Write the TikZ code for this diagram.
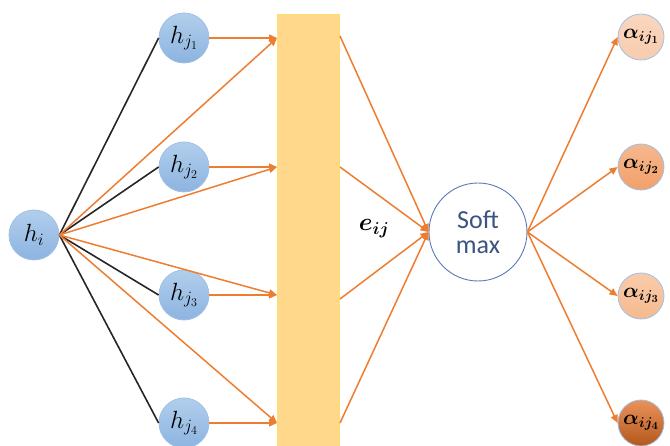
\documentclass[tikz,border=0pt]{standalone}
\usepackage{amsmath,bm}
\usepackage{fontspec}
\newfontfamily\smfont{Carlito}
\usetikzlibrary{arrows.meta}
\definecolor{hblueT}{RGB}{178,206,236}
\definecolor{hblueB}{RGB}{140,180,224}
\definecolor{hborder}{RGB}{160,192,230}
\definecolor{orangeline}{RGB}{237,125,49}
\definecolor{rectfill}{RGB}{255,216,140}
\definecolor{rectborder}{RGB}{255,222,110}
\definecolor{smborder}{RGB}{90,120,185}
\definecolor{smtext}{RGB}{60,84,130}
\definecolor{aOne}{RGB}{248,204,174}
\definecolor{aTwo}{RGB}{242,160,105}
\definecolor{aThree}{RGB}{246,186,142}
\definecolor{aFour}{RGB}{225,110,35}
\begin{document}
\begin{tikzpicture}[x=1pt,y=-1pt,
  hnode/.style={circle,minimum size=50pt,inner sep=0pt,draw=hborder,line width=0.8pt,
    top color=hblueT,bottom color=hblueB,font=\fontsize{25}{28}\selectfont},
  anode/.style={circle,minimum size=46pt,inner sep=0pt,draw=hborder,line width=0.8pt,
    font=\fontsize{21}{24}\selectfont},
  rectbox/.style={draw=rectborder,line width=1pt,fill=rectfill,inner sep=0pt},
  smnode/.style={circle,minimum size=98pt,inner sep=0pt,draw=smborder,line width=0.9pt,fill=white,
    font=\smfont\fontsize{26}{29}\selectfont,text=smtext,align=center},
  blk/.style={draw=black!85,line width=1.6pt},
  org/.style={draw=orangeline,line width=1.5pt,-{Triangle[length=8pt,width=7pt]}},
  elabel/.style={font=\fontsize{24}{28}\selectfont}
]
\useasboundingbox (0,0) rectangle (670,446);

\node[rectbox,minimum width=62pt,minimum height=434pt,anchor=north west] (att) at (277,14) {};

\node[hnode] (hi) at (34,235) {$h_i$};
\node[hnode] (hj1) at (184,38) {$h_{j_1}$};
\node[hnode] (hj2) at (184,167) {$h_{j_2}$};
\node[hnode] (hj3) at (184,295) {$h_{j_3}$};
\node[hnode] (hj4) at (184,423) {$h_{j_4}$};

\node[smnode] (sm) at (478,232) {Soft\\[-4pt]max};

\node[anode,top color=aOne!80!white,bottom color=aOne] (a1) at (641,37) {$\bm{\alpha}_{\bm{i}\bm{j_1}}$};
\node[anode,top color=aTwo!75!white,bottom color=aTwo] (a2) at (641,167) {$\bm{\alpha}_{\bm{i}\bm{j_2}}$};
\node[anode,top color=aThree!75!white,bottom color=aThree] (a3) at (641,296) {$\bm{\alpha}_{\bm{i}\bm{j_3}}$};
\node[anode,top color=aFour!75!white,bottom color=aFour!80!black] (a4) at (641,423) {$\bm{\alpha}_{\bm{i}\bm{j_4}}$};

\node[elabel] (eij) at (374,229) {$\bm{e_{ij}}$};

% coordinates on the attention bar
\coordinate (L1) at (att.west |- hj1);
\coordinate (L2) at (att.west |- hj2);
\coordinate (L3) at (att.west |- hj3);
\coordinate (L4) at (att.west |- hj4);
\coordinate (R1) at ([yshift=2pt]att.east |- hj1);
\coordinate (R2) at (att.east |- hj2);
\coordinate (R3) at ([yshift=-4pt]att.east |- hj3);
\coordinate (R4) at (att.east |- hj4);

% black links
\foreach \k in {1,2,3,4} \draw[blk] (hi.east) -- (hj\k.west);
% orange from h_i
\foreach \k in {1,2,3,4} \draw[org] (hi.east) -- (L\k);
% orange from h_j
\foreach \k in {1,2,3,4} \draw[org] (hj\k.east) -- (L\k);
% bar to softmax
\foreach \k in {1,2,3,4} \draw[org] (R\k) -- (sm.west);
% softmax to alphas
\foreach \k in {1,2,3,4} \draw[org] (sm.east) -- (a\k.west);
\end{tikzpicture}
\end{document}
